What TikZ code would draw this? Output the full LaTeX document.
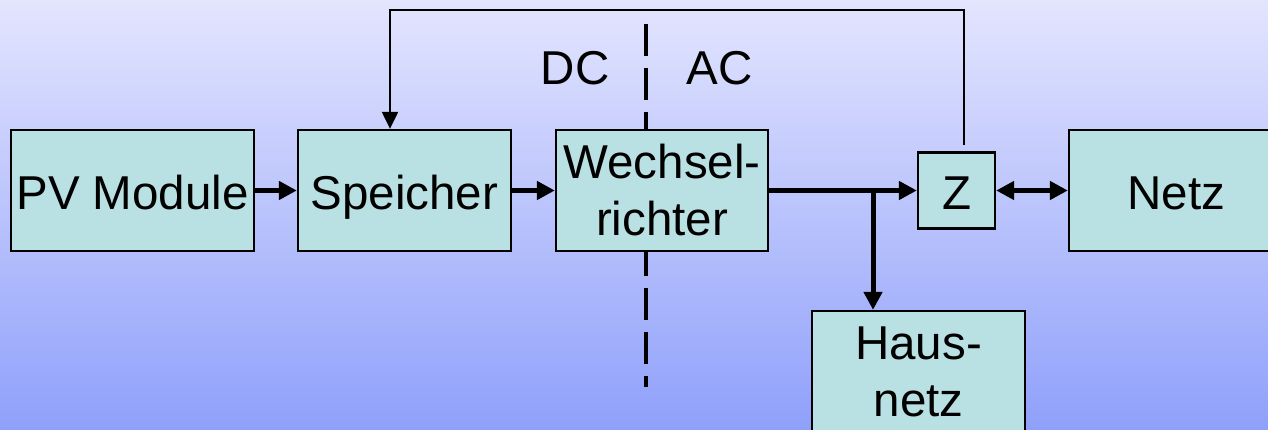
\documentclass[tikz,border=0pt]{standalone}
\usepackage{fontspec}
\setmainfont{Liberation Sans}
\usetikzlibrary{arrows.meta}
\definecolor{boxfill}{HTML}{B9E0E2}
\definecolor{bgtop}{HTML}{E3E5FE}
\definecolor{bgbot}{HTML}{8FA0FA}
\tikzset{
  box/.style={draw=black, line width=2.3pt, fill=boxfill, inner sep=0pt, align=center,
    font=\fontsize{47.5}{57}\selectfont},
  oneline/.style={text height=38pt, text depth=0pt},
  lab/.style={inner sep=0pt, font=\fontsize{47.5}{57}\selectfont},
  fatarrow/.style={line width=5pt, -{Triangle[length=18pt,width=18pt]}},
  fatboth/.style={line width=5pt, {Triangle[length=18pt,width=18pt]}-{Triangle[length=18pt,width=18pt]}},
  thinarrow/.style={line width=2.2pt, -{Triangle[length=17pt,width=16pt]}},
  divider/.style={line width=3.5pt, dash pattern=on 32pt off 12pt}
}
\begin{document}
\begin{tikzpicture}[x=1pt,y=-1pt]
\useasboundingbox (0,0) rectangle (1268,430);
\clip (0,0) rectangle (1268,430);
\shade[top color=bgtop, bottom color=bgbot] (0,0) rectangle (1268,430);
% DC/AC divider (behind the inverter box)
\coordinate (dtop) at (646,24);
\coordinate (dbot) at (646,387);
\draw[divider] (dtop) -- (dbot);
% boxes
\node[box, oneline, minimum width=243pt, minimum height=121pt] (pv) at (132.5,190.5) {PV Module};
\node[box, oneline, minimum width=213pt, minimum height=121pt] (sp) at (404.5,190.5) {Speicher};
\node[box, minimum width=212pt, minimum height=121pt] (wr) at (662,190.5) {Wechsel-\\richter};
\node[box, oneline, minimum width=77pt, minimum height=76pt] (z) at (956.5,190.5) {Z};
\node[box, oneline, minimum width=215pt, minimum height=121pt] (netz) at (1176.5,190.5) {Netz};
\node[box, minimum width=213pt, minimum height=121pt] (haus) at (918.5,371.5) {Haus-\\netz};
% labels
\node[lab, anchor=base] (dc) at (575,85) {DC};
\node[lab, anchor=base] (ac) at (719.5,85) {AC};
% connectors
\draw[fatarrow] (pv.east) -- (sp.west);
\draw[fatarrow] (sp.east) -- (wr.west);
\draw[fatarrow] (wr.east) -- (z.west);
\coordinate (j) at (873,190.5);
\draw[fatarrow] (j) -- (j |- haus.north);
\draw[fatboth] (z.east) -- (netz.west);
\coordinate (fbs) at (964,145);
\coordinate (fbtop) at (0,10);
\draw[thinarrow] (fbs) -- (fbs |- fbtop) -| ([xshift=-14.5pt]sp.north);
\end{tikzpicture}
\end{document}
